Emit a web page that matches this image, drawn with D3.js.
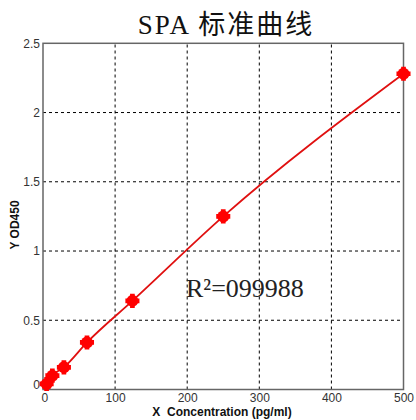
<!DOCTYPE html>
<html><head><meta charset="utf-8">
<script src="https://cdn.jsdelivr.net/npm/d3@7/dist/d3.min.js"></script>
<style>body{margin:0;background:#fff}svg{display:block}</style>
</head><body>
<script>
const concentrations = [5, 13, 29, 61, 124, 250, 500];
const odValues = [0.04, 0.10, 0.16, 0.34, 0.64, 1.25, 2.28];
const xTicks = [0, 100, 200, 300, 400, 500];
const yTicks = [0, 0.5, 1, 1.5, 2, 2.5];
const yTickLabels = ["0", "0.5", "1", "1.5", "2", "2.5"];
const titleText = "SPA 标准曲线";
const r2Text = "R²=099988";
const xTitle = "X  Concentration (pg/ml)";
const yTitle = "Y OD450";

const W = 416, H = 420;
const svg = d3.select("body").append("svg").attr("width", W).attr("height", H);
const x = d3.scaleLinear().domain([0, 500]).range([43, 403.5]);
const y = d3.scaleLinear().domain([0, 2.5]).range([389.5, 43.3]);

// grid
const g = svg.append("g");
g.selectAll(".vg").data(xTicks.slice(1, -1)).join("line")
  .attr("x1", d => x(d)).attr("x2", d => x(d)).attr("y1", y(0)).attr("y2", y(2.5))
  .attr("stroke", "#000").attr("stroke-width", 1).attr("stroke-dasharray", "3,3");
g.selectAll(".hg").data(yTicks.slice(1, -1)).join("line")
  .attr("y1", d => y(d)).attr("y2", d => y(d)).attr("x1", x(0)).attr("x2", x(500))
  .attr("stroke", "#000").attr("stroke-width", 1).attr("stroke-dasharray", "3,3");

// frame
svg.append("rect").attr("x", x(0)).attr("y", y(2.5)).attr("width", x(500) - x(0)).attr("height", y(0) - y(2.5))
  .attr("fill", "none").attr("stroke", "#666").attr("stroke-width", 1.5);

// axes labels
const xAxis = d3.axisBottom(x).tickValues(xTicks).tickSize(0).tickPadding(4);
const xa = svg.append("g").attr("transform", `translate(0,${y(0)})`).call(xAxis);
xa.select(".domain").remove();
xa.selectAll("text").attr("font-family", "Liberation Sans, Arial, sans-serif").attr("font-size", 12).attr("fill", "#333")
  .attr("text-anchor", (d) => d === 0 ? "start" : "middle").attr("dx", d => d === 0 ? -2 : 0);

const yAxis = d3.axisLeft(y).tickValues(yTicks).tickFormat((d, i) => yTickLabels[i]).tickSize(0).tickPadding(3);
const ya = svg.append("g").attr("transform", `translate(${x(0)},0)`).call(yAxis);
ya.select(".domain").remove();
ya.selectAll("text").attr("font-family", "Liberation Sans, Arial, sans-serif").attr("font-size", 12).attr("fill", "#333")
  .attr("dy", (d) => d === 0 ? "-0.1em" : "0.32em");

// curve
const pts = concentrations.map((c, i) => [c, odValues[i]]);
const line = d3.line().x(d => x(d[0])).y(d => y(d[1])).curve(d3.curveMonotoneX);
svg.append("path").datum(pts).attr("d", line).attr("fill", "none").attr("stroke", "#e01010").attr("stroke-width", 1.8);

// markers
svg.selectAll(".pt").data(pts).join("circle")
  .attr("cx", d => x(d[0])).attr("cy", d => y(d[1])).attr("r", 6).attr("fill", "#f00");
svg.selectAll(".pt2").data(pts).join("path")
  .attr("transform", d => `translate(${x(d[0])},${y(d[1])})`)
  .attr("d", d3.symbol().type(d3.symbolCross).size(110)).attr("fill", "#f00");

// titles
svg.append("text").attr("x", 226).attr("y", 34).attr("text-anchor", "middle")
  .attr("font-family", "Liberation Serif, 'Times New Roman', 'Noto Sans CJK SC', serif").attr("font-size", 27)
  .attr("letter-spacing", 2).attr("fill", "#111").text(titleText);
svg.append("text").attr("x", 186).attr("y", 297)
  .attr("font-family", "Liberation Serif, 'Times New Roman', serif").attr("font-size", 26).attr("fill", "#222").text(r2Text);
svg.append("text").attr("x", 222).attr("y", 416).attr("text-anchor", "middle")
  .attr("font-family", "Liberation Sans, Arial, sans-serif").attr("font-weight", "bold").attr("font-size", 12)
  .attr("fill", "#111").attr("xml:space", "preserve").style("white-space", "pre").text(xTitle);
svg.append("text").attr("transform", "translate(19,225) rotate(-90)").attr("text-anchor", "middle")
  .attr("font-family", "Liberation Sans, Arial, sans-serif").attr("font-weight", "bold").attr("font-size", 12)
  .attr("fill", "#111").text(yTitle);
</script>
</body></html>
